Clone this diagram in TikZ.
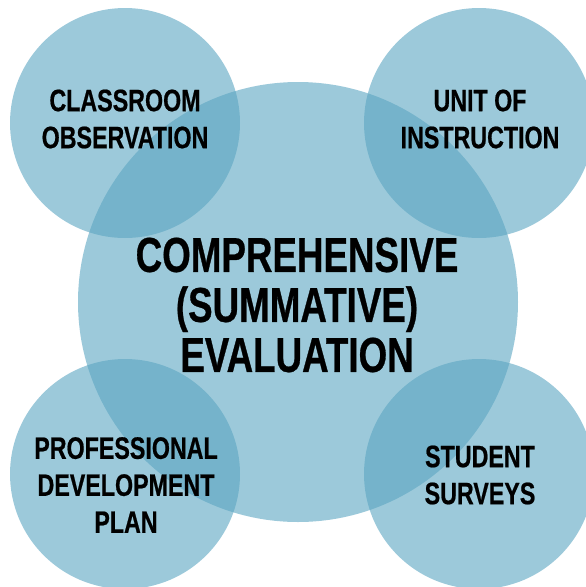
\documentclass[tikz,border=0pt]{standalone}
\usepackage{fontspec}
\usepackage{tikz}
\newfontfamily\condfont{Liberation Sans}[FakeStretch=0.75,FakeBold=0.6]
\definecolor{bubble}{RGB}{90,165,193}

\begin{document}
\begin{tikzpicture}[x=1pt,y=1pt,yscale=-1,xscale=1,
    bubble/.style={fill=bubble,fill opacity=0.6,draw=none},
    smalltext/.style={align=center,inner sep=0pt,font=\condfont\bfseries\fontsize{31}{37}\selectfont},
    bigtext/.style={align=center,inner sep=0pt,font=\condfont\bfseries\fontsize{49}{50}\selectfont}]
    \useasboundingbox (0,0) rectangle (586,587);
    \clip (0,0) rectangle (586,587);

    % Circles
    \fill [bubble] (298,302) circle (220);
    \fill [bubble] (125,123) circle (115);
    \fill [bubble] (479,123) circle (115);
    \fill [bubble] (125,474) circle (115);
    \fill [bubble] (479,474) circle (115);

    % Text Node
    \node [bigtext] (eval) at (297,305) {COMPREHENSIVE\\(SUMMATIVE)\\EVALUATION};
    % Text Node
    \node [smalltext] (obs) at (125,119) {CLASSROOM\\OBSERVATION};
    % Text Node
    \node [smalltext] (unit) at (480,119) {UNIT OF\\INSTRUCTION};
    % Text Node
    \node [smalltext] (pdp) at (126,485) {PROFESSIONAL\\DEVELOPMENT\\PLAN};
    % Text Node
    \node [smalltext] (surv) at (480,475) {STUDENT\\SURVEYS};

\end{tikzpicture}
\end{document}
